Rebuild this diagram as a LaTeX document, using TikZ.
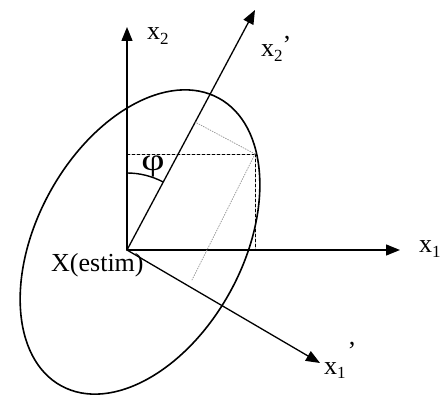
\documentclass[tikz,border=0pt]{standalone}
\usepackage{fontspec}
\setmainfont{Liberation Serif}
\usepackage{tkz-euclide}
\usetikzlibrary{arrows.meta,calc}
\newcommand{\lowidx}[1]{\raisebox{-4.5pt}{\fontsize{17}{17}\selectfont #1}}
\tikzset{axislbl/.style={anchor=base west,inner sep=0pt,font=\fontsize{26}{30}\selectfont},
  axisarrow/.style={-{Triangle[length=14pt,width=11pt]}}}

\begin{document}
\begin{tikzpicture}[x=1pt,y=1pt]

\clip(0,0) rectangle (442,394);

\tkzSetUpLine[line width=1.3pt,color=black]

\tkzDefPoint(127,144){O}
\tkzDefPoint(127,367){A2}
\tkzDefPoint(255,384){B2}
\tkzDefPoint(400,144){A1}
\tkzDefPoint(320,31){B1}
\tkzDefPoint(140,152){C}
\tkzDefPoint(255,240){P}
\tkzDefPoint(127,240){H2}
\tkzDefPoint(255,144){H1}
\tkzDefPoint(192,114){E}

% foot of P on the x2' axis
\coordinate (F2) at ($(O)!(P)!(B2)$);

\draw[line width=1.6pt,rotate around={-28.7:(C)}] (C) ellipse[x radius=103,y radius=164];

\tkzDrawSegments[axisarrow](O,A2 O,B2 O,A1 O,B1)

\tkzDrawSegments[line width=0.8pt,dash pattern=on 3pt off 2pt](H2,P P,H1)
\tkzDrawSegments[gray!80,line width=0.8pt,dash pattern=on 1pt off 1.5pt](P,F2 P,E)

\draw[line width=1.4pt] ($(O)+(0,77)$) arc[start angle=90,end angle=62,radius=77];

\node[font=\fontsize{31}{34}\selectfont,inner sep=0pt] (phi) at (153,228) {\scalebox{1.3}[1]{φ}};

\node[axislbl] (lx2) at (147,354) {x\lowidx{2}};
\node[axislbl] (lx2p) at (261,337) {x\lowidx{2}\raisebox{3pt}{’}};
\node[axislbl] (lx1) at (419,141) {x\lowidx{1}};
\node[axislbl] (lx1p) at (324,20) {x\lowidx{1}\hspace{2pt}\raisebox{14pt}{’}};
\node[axislbl] (lest) at (51,122) {X(estim)};
\end{tikzpicture}
\end{document}
